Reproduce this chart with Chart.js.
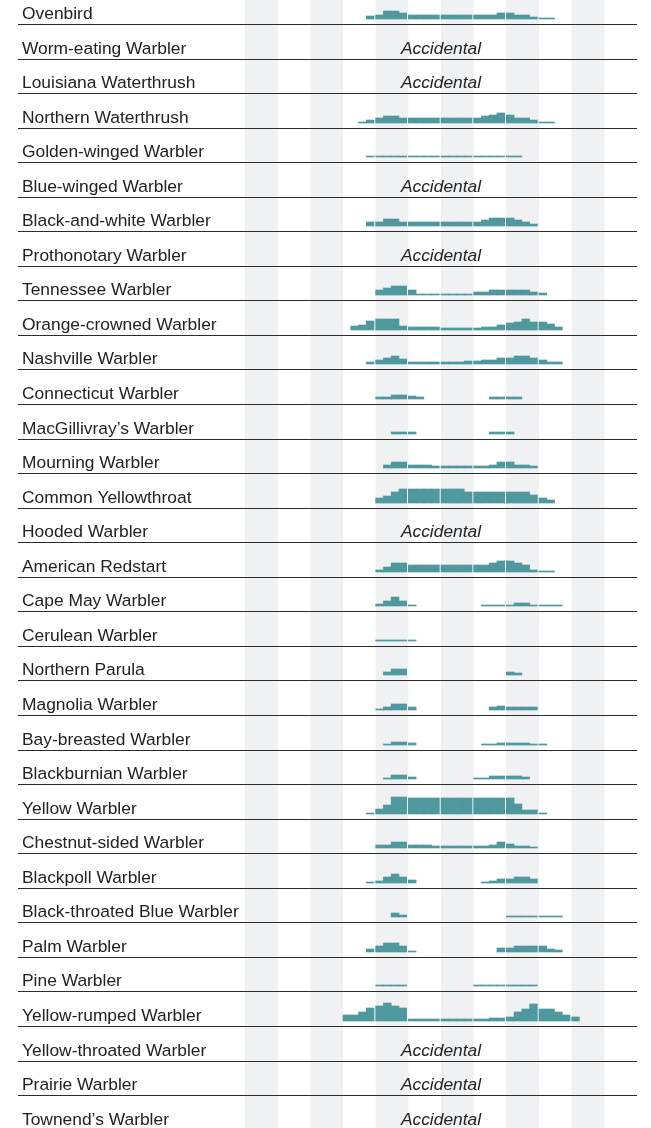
<!DOCTYPE html>
<html>
<head>
<meta charset="utf-8">
<script src="https://cdn.jsdelivr.net/npm/chart.js@4.4.1/dist/chart.umd.min.js"></script>
<style>
    html, body { margin: 0; padding: 0; background: #fff; }
    canvas { display: block; }
</style>
</head>
<body>
<canvas id="warbler-chart" width="651" height="1128"></canvas>
<script>
const months = ["Jan", "Feb", "Mar", "Apr", "May", "Jun", "Jul", "Aug", "Sep", "Oct", "Nov", "Dec"];
const seasonStartMonth = 3; // the week series below start at April, week 1

const species = [
    "Ovenbird",
    "Worm-eating Warbler",
    "Louisiana Waterthrush",
    "Northern Waterthrush",
    "Golden-winged Warbler",
    "Blue-winged Warbler",
    "Black-and-white Warbler",
    "Prothonotary Warbler",
    "Tennessee Warbler",
    "Orange-crowned Warbler",
    "Nashville Warbler",
    "Connecticut Warbler",
    "MacGillivray\u2019s Warbler",
    "Mourning Warbler",
    "Common Yellowthroat",
    "Hooded Warbler",
    "American Redstart",
    "Cape May Warbler",
    "Cerulean Warbler",
    "Northern Parula",
    "Magnolia Warbler",
    "Bay-breasted Warbler",
    "Blackburnian Warbler",
    "Yellow Warbler",
    "Chestnut-sided Warbler",
    "Blackpoll Warbler",
    "Black-throated Blue Warbler",
    "Palm Warbler",
    "Pine Warbler",
    "Yellow-rumped Warbler",
    "Yellow-throated Warbler",
    "Prairie Warbler",
    "Townend\u2019s Warbler"
];

// weekly abundance bars, April week 1 .. November week 4
//                            Apr         May          Jun            Jul            Aug            Sep           Oct        Nov
const ovenbird            = [0,0,0,3,   4,8,8,6,     4,4,4,4,       4,4,4,4,       4,4,4,6,       6,4,4,2,      1,1,0,0,   0,0,0,0];
const northernWaterthrush = [0,0,1,3,   5,7,7,5,     5,5,5,5,       5,5,5,5,       5,7,8,10,      8,5,5,3,      1,1,0,0,   0,0,0,0];
const goldenWinged        = [0,0,0,1,   1,1,1,1,     1,1,1,1,       1,1,1,1,       1,1,1,1,       1,1,0,0,      0,0,0,0,   0,0,0,0];
const blackAndWhite       = [0,0,0,4,   4,7,7,4,     4,4,4,4,       4,4,4,4,       4,6,8,8,       8,6,4,2,      0,0,0,0,   0,0,0,0];
const tennessee           = [0,0,0,0,   5,7,9,9,     5,1,1,1,       1,1,1,1,       3,3,5,5,       5,5,5,3,      2,0,0,0,   0,0,0,0];
const orangeCrowned       = [0,4,5,9,   11,11,11,4,  3,3,3,3,       2,2,2,2,       2,3,3,5,       7,8,11,8,     8,6,3,0,   0,0,0,0];
const nashville           = [0,0,0,2,   4,6,8,5,     2,2,2,2,       2,2,2,3,       3,4,4,6,       6,8,8,6,      4,2,2,0,   0,0,0,0];
const connecticut         = [0,0,0,0,   2,2,4,4,     3,2,0,0,       0,0,0,0,       0,0,2,2,       2,2,0,0,      0,0,0,0,   0,0,0,0];
const macgillivrays       = [0,0,0,0,   0,0,2,2,     2,0,0,0,       0,0,0,0,       0,0,2,2,       2,0,0,0,      0,0,0,0,   0,0,0,0];
const mourning            = [0,0,0,0,   0,3,6,6,     3,3,3,2,       2,2,2,2,       2,2,3,6,       6,3,3,2,      0,0,0,0,   0,0,0,0];
const commonYellowthroat  = [0,0,0,0,   5,7,11,14,   14,14,14,14,   14,14,14,11,   11,11,11,11,   11,11,11,8,   5,3,0,0,   0,0,0,0];
const americanRedstart    = [0,0,0,0,   2,5,9,9,     7,7,7,7,       7,7,7,7,       7,7,9,11,      11,9,7,2,     1,1,0,0,   0,0,0,0];
const capeMay             = [0,0,0,0,   2,5,9,5,     1,0,0,0,       0,0,0,0,       0,1,1,1,       1,3,3,1,      1,1,1,0,   0,0,0,0];
const cerulean            = [0,0,0,0,   1,1,1,1,     1,0,0,0,       0,0,0,0,       0,0,0,0,       0,0,0,0,      0,0,0,0,   0,0,0,0];
const northernParula      = [0,0,0,0,   0,3,6,6,     0,0,0,0,       0,0,0,0,       0,0,0,0,       3,2,0,0,      0,0,0,0,   0,0,0,0];
const magnolia            = [0,0,0,0,   1,3,6,6,     3,0,0,0,       0,0,0,0,       0,0,3,4,       3,3,3,3,      0,0,0,0,   0,0,0,0];
const bayBreasted         = [0,0,0,0,   0,1,3,3,     2,0,0,0,       0,0,0,0,       0,1,1,2,       2,2,2,1,      1,0,0,0,   0,0,0,0];
const blackburnian        = [0,0,0,0,   0,1,4,4,     2,0,0,0,       0,0,0,0,       1,1,3,3,       3,3,2,0,      0,0,0,0,   0,0,0,0];
const yellow              = [0,0,0,1,   5,9,17,17,   16,16,16,16,   16,16,16,16,   16,16,16,16,   16,10,4,4,    1,0,0,0,   0,0,0,0];
const chestnutSided       = [0,0,0,0,   3,3,6,6,     3,3,3,2,       2,2,2,2,       2,2,3,6,       4,2,2,1,      0,0,0,0,   0,0,0,0];
const blackpoll           = [0,0,0,1,   2,6,9,6,     3,0,0,0,       0,0,0,0,       0,1,2,4,       4,6,6,4,      0,0,0,0,   0,0,0,0];
const blackThroatedBlue   = [0,0,0,0,   0,0,4,2,     0,0,0,0,       0,0,0,0,       0,0,0,0,       1,1,1,1,      1,1,1,0,   0,0,0,0];
const palm                = [0,0,0,3,   6,9,9,6,     1,0,0,0,       0,0,0,0,       0,0,0,4,       4,6,6,6,      6,3,2,0,   0,0,0,0];
const pine                = [0,0,0,0,   1,1,1,1,     0,0,0,0,       0,0,0,0,       1,1,1,1,       1,1,1,1,      0,0,0,0,   0,0,0,0];
const yellowRumped        = [6,6,9,13,  15,18,15,13, 2,2,2,2,       2,2,2,2,       2,2,3,3,       4,9,12,17,    12,12,9,6, 4,0,0,0];
const accidental = null;

// one entry per row of the table, same order as species
const rowSeries = [
    ovenbird, accidental, accidental, northernWaterthrush, goldenWinged, accidental,
    blackAndWhite, accidental, tennessee, orangeCrowned, nashville, connecticut,
    macgillivrays, mourning, commonYellowthroat, accidental, americanRedstart, capeMay,
    cerulean, northernParula, magnolia, bayBreasted, blackburnian, yellow,
    chestnutSided, blackpoll, blackThroatedBlue, palm, pine, yellowRumped,
    accidental, accidental, accidental
];

// layout / style
const ROW_H = 34.55;      // y units are pixels, one row per ROW_H
const TOP_CUT = 10.55;    // first row is partly cut off at the top
const BAR_LIFT = 5;       // bars and text sit this far above the row rule
const WEEK_W = 0.2375;    // a week bar, in month units (leaves a small gap at each month end)
const BAR_COLOR = '#4f989d';
const BAND_COLOR = '#f0f1f3';
const RULE_COLOR = '#2b2b2b';
const TEXT_COLOR = '#222222';
const FONT = '"Liberation Sans", Arial, Helvetica, sans-serif';

const canvas = document.getElementById('warbler-chart');

let datasets = [];
rowSeries.forEach(function (series, row) {
    if (!series) {
        return;
    }
    const base = (row + 1) * ROW_H - BAR_LIFT;
    let points = [];
    series.forEach(function (h, k) {
        if (!h) {
            return;
        }
        const month = seasonStartMonth + Math.floor(k / 4);
        const week = k % 4;
        points.push({x: month + (week + 0.5) * WEEK_W, y: [base - h, base]});
    });
    datasets.push({
        label: species[row],
        data: points,
        backgroundColor: BAR_COLOR,
        borderWidth: 0,
        grouped: false,
        barPercentage: 1,
        categoryPercentage: 1
    });
});

const checklistTable = {
    id: 'checklistTable',
    beforeDatasetsDraw(chart) {
        const {ctx, scales: {x}} = chart;
        ctx.save();
        ctx.fillStyle = BAND_COLOR;
        months.forEach(function (m, i) {
            if (i % 2) {
                return;
            }
            const left = x.getPixelForValue(i);
            const right = x.getPixelForValue(i + 1);
            ctx.fillRect(left, 0, right - left, chart.height);
        });
        ctx.restore();
    },
    afterDatasetsDraw(chart) {
        const {ctx, scales: {x, y}, chartArea} = chart;
        ctx.save();
        species.forEach(function (name, row) {
            const lineY = Math.round(y.getPixelForValue((row + 1) * ROW_H));
            ctx.fillStyle = RULE_COLOR;
            ctx.fillRect(18, lineY, chartArea.right - 18, 1);

            ctx.fillStyle = TEXT_COLOR;
            ctx.textBaseline = 'alphabetic';
            ctx.textAlign = 'left';
            ctx.font = '17.4px ' + FONT;
            ctx.fillText(name, 22, lineY - BAR_LIFT);

            if (!rowSeries[row]) {
                ctx.textAlign = 'center';
                ctx.font = 'italic 17.4px ' + FONT;
                ctx.fillText('Accidental', x.getPixelForValue(6), lineY - BAR_LIFT);
            }
        });
        ctx.restore();
    }
};

new Chart(canvas.getContext('2d'), {
    type: 'bar',
    data: {datasets: datasets},
    options: {
        responsive: false,
        animation: false,
        events: [],
        layout: {padding: {left: 245, right: 14, top: 0, bottom: 0}},
        plugins: {
            legend: {display: false},
            tooltip: {enabled: false}
        },
        scales: {
            x: {
                type: 'linear',
                display: false,
                offset: false,
                grid: {offset: false},
                min: 0,
                max: months.length,
                ticks: {stepSize: 1}
            },
            y: {
                type: 'linear',
                display: false,
                reverse: true,
                alignToPixels: true,
                min: TOP_CUT,
                max: TOP_CUT + canvas.height
            }
        }
    },
    plugins: [checklistTable]
});
</script>
</body>
</html>
